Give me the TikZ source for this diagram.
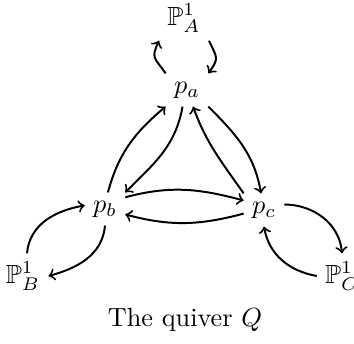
\documentclass[tikz,border=0pt]{standalone}
\usepackage{amssymb}

\begin{document}
\begin{tikzpicture}[
  x=0.381pt, y=-0.381pt,
  vert/.style={inner sep=3pt},
  link/.style={->, line width=0.75pt}
]
  \useasboundingbox (0,0) rectangle (354,344);

  \node[vert] (pa) at (187,90)  {$p_a$};
  \node[vert] (pb) at (105,209) {$p_b$};
  \node[vert] (pc) at (264,210) {$p_c$};
  \node[vert] (lineA) at (184,18)  {$\mathbb{P}^1_A$};
  \node[vert] (lineB) at (23,276)  {$\mathbb{P}^1_B$};
  \node[vert] (lineC) at (342,276) {$\mathbb{P}^1_C$};
  \node (caption) at (185,320) {The quiver $Q$};

  % triangle
  \draw[link] (pb.80) to[out=75,in=220] (pa.south west);
  \draw[link] (pa.255) to[out=-100,in=45] (pb.north east);
  \draw[link] (pc.north west) to[out=125,in=-70] (pa.290);
  \draw[link] (pa.south east) to[out=-45,in=100] (pc.100);
  \draw[link] (pb.30) to[out=15,in=165] (pc.155);
  \draw[link] (pc.190) to[out=195,in=-15] (pb.-15);

  % loops to the lines
  \draw[link] (pa.north west) to[out=125,in=-115,looseness=1.5] (lineA.south west);
  \draw[link] (lineA.south east) to[out=-65,in=55,looseness=1.5] (pa.north east);
  \draw[link] (pb.south) to[out=-95,in=15] (lineB.east);
  \draw[link] (lineB.80) to[out=85,in=190] (pb.170);
  \draw[link] (pc.15) to[out=0,in=95] (lineC.north);
  \draw[link] (lineC.west) to[out=170,in=-80] (pc.south);
\end{tikzpicture}
\end{document}
